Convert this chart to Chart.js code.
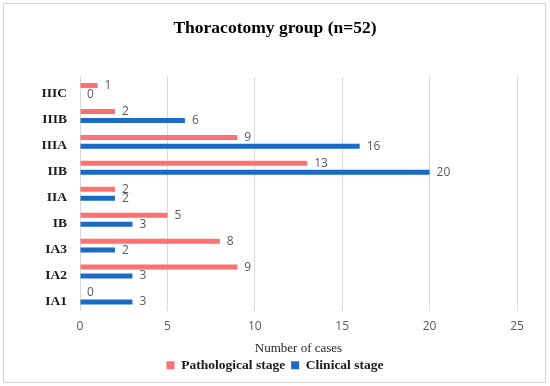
<!DOCTYPE html>
<html>
<head>
<meta charset="utf-8">
<script src="https://cdn.jsdelivr.net/npm/chart.js@4"></script>
<style>
    body { margin: 0; background: #fff; }
    #wrap { width: 550px; height: 386px; }
</style>
</head>
<body>
<div id="wrap"><canvas id="stageChart" width="550" height="386"></canvas></div>
<script>
const stages = ['IIIC', 'IIIB', 'IIIA', 'IIB', 'IIA', 'IB', 'IA3', 'IA2', 'IA1'];
const pathological = [1, 2, 9, 13, 2, 5, 8, 9, 0];
const clinical = [0, 6, 16, 20, 2, 3, 2, 3, 3];
const xTicks = [0, 5, 10, 15, 20, 25];

const serif = '"Liberation Serif", "DejaVu Serif", serif';
const sans = '"Open Sans", "Liberation Sans", sans-serif';

// gray frame around the whole figure
const framePlugin = {
    id: 'frame',
    beforeDraw(chart) {
        const ctx = chart.ctx;
        ctx.save();
        ctx.strokeStyle = '#d4d4d4';
        ctx.lineWidth = 1;
        ctx.strokeRect(3.5, 3.5, 542, 379);
        ctx.restore();
    }
};

// value labels at the end of each bar
const valueLabels = {
    id: 'valueLabels',
    afterDatasetsDraw(chart) {
        const ctx = chart.ctx;
        ctx.save();
        ctx.font = '12px ' + sans;
        ctx.fillStyle = '#595959';
        ctx.textBaseline = 'middle';
        ctx.textAlign = 'left';
        chart.data.datasets.forEach((ds, i) => {
            chart.getDatasetMeta(i).data.forEach((bar, j) => {
                ctx.fillText(ds.data[j], bar.x + 7, bar.y);
            });
        });
        ctx.restore();
    }
};

new Chart(document.getElementById('stageChart'), {
    type: 'bar',
    data: {
        labels: stages,
        datasets: [
            {
                label: 'Pathological stage',
                data: pathological,
                backgroundColor: '#ff7071'
            },
            {
                label: 'Clinical stage',
                data: clinical,
                backgroundColor: '#1b6bc6'
            }
        ]
    },
    options: {
        indexAxis: 'y',
        responsive: false,
        animation: false,
        categoryPercentage: 0.69,
        barPercentage: 0.56,
        layout: { padding: { left: 0, right: 0, top: 0, bottom: 4 } },
        scales: {
            x: {
                min: 0,
                max: 25,
                afterBuildTicks: (scale) => {
                    scale.ticks = xTicks.map(v => ({ value: v }));
                },
                grid: { color: '#d9d9d9', drawTicks: false },
                border: { display: false },
                ticks: {
                    color: '#595959',
                    padding: 9,
                    font: { family: sans, size: 12 }
                },
                title: {
                    display: true,
                    text: 'Number of cases',
                    color: '#262626',
                    padding: { top: -2.2, bottom: -3.8 },
                    font: { family: serif, size: 13 }
                }
            },
            y: {
                afterFit: (scale) => { scale.width = 80; },
                grid: { display: false, drawTicks: false },
                border: { display: false },
                ticks: {
                    color: '#1a1a1a',
                    padding: 13,
                    labelOffset: 4,
                    font: { family: serif, size: 13.5, weight: 'bold' }
                }
            },
            // empty right-hand axis, keeps the plot narrower while the
            // title and legend stay centred on the page
            yRight: {
                type: 'category',
                position: 'right',
                labels: stages,
                afterFit: (scale) => { scale.width = 33; },
                grid: { display: false, drawTicks: false },
                border: { display: false },
                ticks: { display: false }
            }
        },
        plugins: {
            title: {
                display: true,
                text: 'Thoracotomy group (n=52)',
                color: '#000',
                padding: { top: 18, bottom: 38 },
                font: { family: serif, size: 17.5, weight: 'bold' }
            },
            legend: {
                position: 'bottom',
                labels: {
                    boxWidth: 8,
                    boxHeight: 8,
                    padding: 6,
                    color: '#1a1a1a',
                    font: { family: serif, size: 13.5, weight: 'bold' }
                }
            },
            tooltip: { enabled: false }
        }
    },
    plugins: [framePlugin, valueLabels]
});
</script>
</body>
</html>
